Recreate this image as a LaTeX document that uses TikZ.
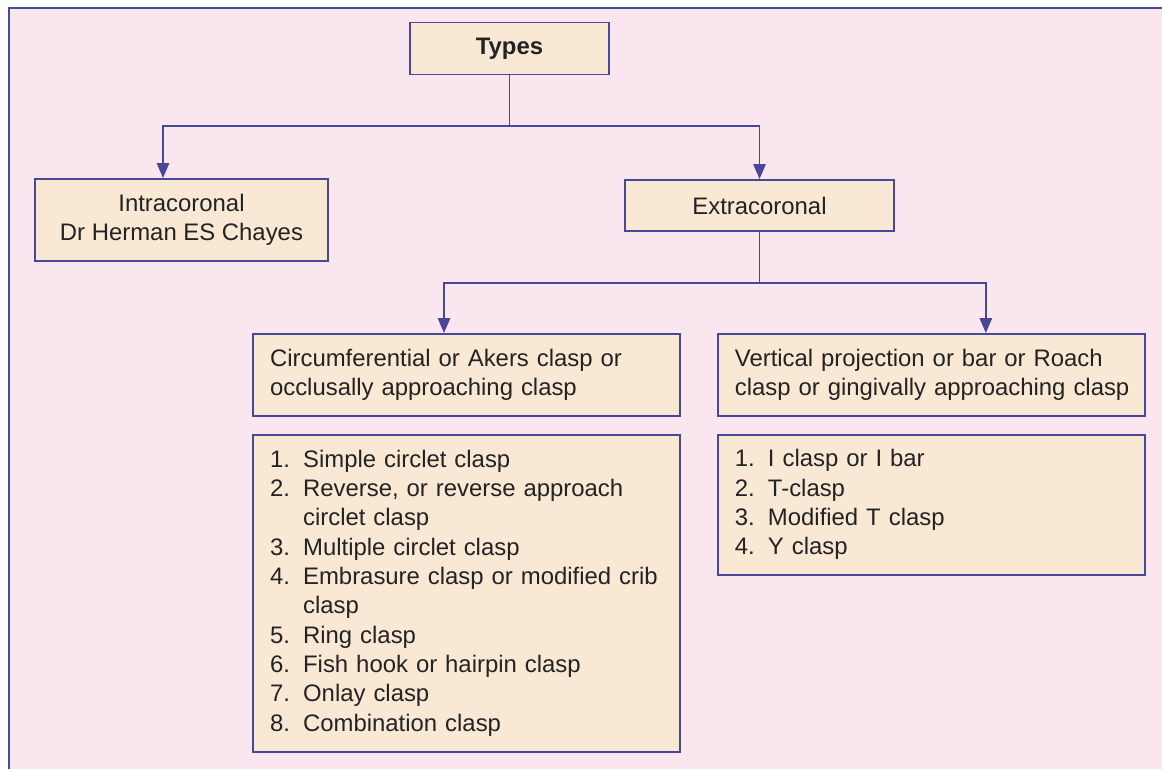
\documentclass[tikz,border=0pt]{standalone}
\usepackage{fontspec}
\setmainfont{Liberation Sans}
\usetikzlibrary{arrows.meta, positioning, calc}

\definecolor{bgpink}{RGB}{250,230,239}
\definecolor{boxfill}{RGB}{249,232,212}
\definecolor{edgeblue}{RGB}{72,72,150}
\definecolor{inkgray}{RGB}{35,35,35}

\newcommand{\claspfont}{\fontsize{13.6}{16.7}\selectfont}

\begin{document}
\begin{tikzpicture}[
  x=0.02cm, y=-0.02cm,
  every node/.style={font=\claspfont, text=inkgray},
  box/.style={rectangle, draw=edgeblue, fill=boxfill, line width=1.1pt, inner sep=0pt, align=center},
  listbox/.style={box, inner xsep=0.34cm, text width=7.86cm, align=left, minimum height=#1},
  arr/.style={-{Triangle[length=8.5pt, width=7pt]}, line width=1.1pt, edgeblue},
  bus/.style={line width=1.1pt, edgeblue},
]

% Page background with frame on top and left
\useasboundingbox (0,0) rectangle (1162,769);
\fill[white] (0,0) rectangle (1162,769);
\fill[bgpink] (9,8) rectangle (1162,769);
\draw[edgeblue, line width=1.2pt] (9,769) -- (9,8) -- (1162,8);

% Top level
\node[box, minimum width=3.98cm, minimum height=1.04cm] (types) at (509.5,48.5) {\textbf{Types}};
\node[box, minimum width=5.86cm, minimum height=1.64cm] (intra) at (181.5,220) {Intracoronal\\Dr Herman ES Chayes};
\node[box, minimum width=5.38cm, minimum height=1.02cm] (extra) at (759.5,205.5) {Extracoronal};

% Extracoronal branches
\node[listbox=1.64cm] (circ) at (466.5,375) {\noindent\begin{tabular}{@{}l@{}}
Circumferential or Akers clasp or\\
occlusally approaching clasp
\end{tabular}};
\node[listbox=1.64cm, right=0.72cm of circ] (vert) {\noindent\begin{tabular}{@{}l@{}}
Vertical projection or bar or Roach\\
clasp or gingivally approaching clasp
\end{tabular}};

% Lists of clasps
\node[listbox=6.34cm, below=0.34cm of circ] (circlist) {\noindent\begin{tabular}{@{}l@{\hspace{7.5pt}}l@{}}
1. & Simple circlet clasp\\
2. & Reverse, or reverse approach\\
   & circlet clasp\\
3. & Multiple circlet clasp\\
4. & Embrasure clasp or modified crib\\
   & clasp\\
5. & Ring clasp\\
6. & Fish hook or hairpin clasp\\
7. & Onlay clasp\\
8. & Combination clasp
\end{tabular}};
\node[listbox=2.8cm, below=0.34cm of vert] (vertlist) {\noindent\begin{tabular}{@{}l@{\hspace{7.5pt}}l@{}}
1. & I clasp or I bar\\
2. & T-clasp\\
3. & Modified T clasp\\
4. & Y clasp
\end{tabular}};

% Connectors
\coordinate[below=1.02cm of types.south] (split1);
\draw[bus] (types.south) -- (split1);
\draw[arr] (split1) -| ([xshift=-0.37cm]intra.north);
\draw[arr] (split1) -| (extra.north);

\coordinate[below=1.02cm of extra.south] (split2);
\draw[bus] (extra.south) -- (split2);
\draw[arr] (split2) -| ([xshift=-0.45cm]circ.north);
\draw[arr] (split2) -| ([xshift=1.09cm]vert.north);

\end{tikzpicture}
\end{document}
